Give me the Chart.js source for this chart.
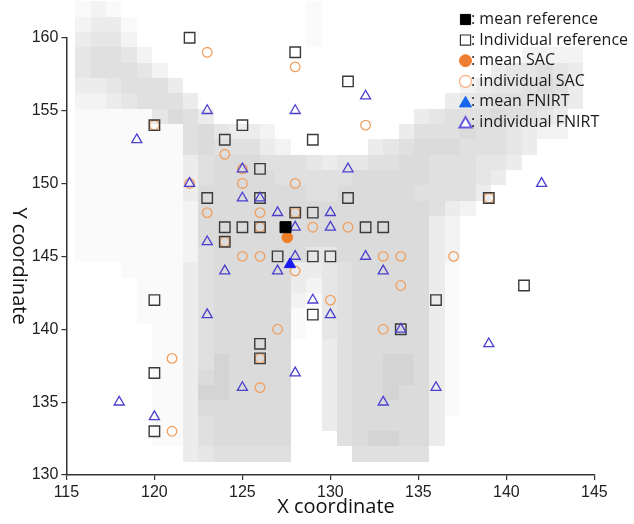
<!DOCTYPE html>
<html>
<head>
<meta charset="utf-8">
<script src="https://cdn.jsdelivr.net/npm/chart.js@4.4.1/dist/chart.umd.min.js"></script>
<style>
  body { margin: 0; background: #fff; }
  #chartCoord { display: block; }
</style>
</head>
<body>
<canvas id="chartCoord" width="634" height="524"></canvas>
<script>
// data ---------------------------------------------------------------

// individual reference (open squares)
const refX = [122,128,131,120,125,124,129,126,123,126,131,139,128,129,124,125,126,132,133,124,127,129,130,120,136,141,129,134,126,126,120,120];
const refY = [160,159,157,154,154,153,153,151,149,149,149,149,148,148,147,147,147,147,147,146,145,145,145,142,142,143,141,140,139,138,137,133];

// individual SAC (open circles)
const sacX = [123,128,132,120,124,125,122,125,128,123,126,128,126,129,131,124,125,126,133,134,137,128,134,130,127,133,139,126,121,126,121];
const sacY = [159,158,154,154,152,151,150,150,150,148,148,148,147,147,147,146,145,145,145,145,145,144,143,142,140,140,149,138,138,136,133];

// individual FNIRT (open triangles)
const fnirtX = [123,128,132,119,125,131,122,142,125,126,127,130,128,130,123,128,132,124,127,133,129,130,123,134,139,128,125,136,118,133,120];
const fnirtY = [155,155,156,153,151,151,150,150,149,149,148,148,147,147,146,145,145,144,144,144,142,141,141,140,139,137,136,136,135,135,134];

// means: reference, SAC, FNIRT
const meanX = [127.45, 127.55, 127.7];
const meanY = [147.0, 146.3, 144.45];

const xTicks = [115, 120, 125, 130, 135, 140, 145];
const yTicks = [130, 135, 140, 145, 150, 155, 160];

const legendLabels = [': mean reference', ': Individual reference', ': mean SAC', ': individual SAC', ': mean FNIRT', ': individual FNIRT'];
const xTitle = 'X coordinate';
const yTitle = 'Y coordinate';

// background image, one string per row (top row first), 0 = white .. 7 = darkest
const bgRows = [
  '1210000000' + '0000010000' + '0000000000' + '0000',
  '2331000000' + '0000010000' + '0000000000' + '0000',
  '3442000000' + '0000010000' + '0000000000' + '0000',
  '4554200000' + '0000000000' + '0000000002' + '2220',
  '4555420000' + '0000000000' + '0000000344' + '5430',
  '3345553000' + '0000000000' + '0000023445' + '6530',
  '2234555300' + '0000000000' + '0000344555' + '5430',
  '1111146530' + '0000000000' + '0034555655' + '4300',
  '1111111564' + '3320000000' + '0355565543' + '2200',
  '1111111565' + '5532000003' + '4566655543' + '0000',
  '1111111356' + '6655543445' + '5665554430' + '0000',
  '1111111356' + '6665555566' + '6665554300' + '0000',
  '1111111366' + '6666655666' + '6655553000' + '0000',
  '1111111266' + '6666666666' + '6665320000' + '0000',
  '1111111266' + '6666666666' + '6663200000' + '0000',
  '1111111266' + '6666666666' + '6663200000' + '0000',
  '1111111256' + '6666644666' + '6663200000' + '0000',
  '0001111356' + '6666334566' + '6663100000' + '0000',
  '0000111356' + '6666324566' + '6663100000' + '0000',
  '0000111356' + '6666214566' + '6663100000' + '0000',
  '0000111356' + '6666104566' + '6663100000' + '0000',
  '0000011356' + '6666104566' + '6663100000' + '0000',
  '0000011356' + '6666003566' + '6663100000' + '0000',
  '0000011357' + '6666003566' + '7763100000' + '0000',
  '0000011367' + '6666003566' + '7763100000' + '0000',
  '0000011377' + '6666003566' + '7663100000' + '0000',
  '0000011366' + '6666003566' + '6663100000' + '0000',
  '0000011356' + '6666003566' + '6663000000' + '0000',
  '0000011356' + '6666000567' + '7663000000' + '0000',
  '0000000345' + '5555000055' + '5550000000' + '0000'
];
const bgShades = [255, 250, 243, 236, 230, 224, 219, 212];

// chart --------------------------------------------------------------

function toPoints(xs, ys) {
    return xs.map(function (x, i) { return { x: x, y: ys[i] }; });
}

const bgLeft = 115.5, bgCellW = 0.875;
const bgTop = 162.5, bgCellH = 1.053;

const bgPlugin = {
    id: 'bgImage',
    beforeDatasetsDraw(chart) {
        const ctx = chart.ctx;
        const xs = chart.scales.x, ys = chart.scales.y;
        ctx.save();
        for (let r = 0; r < bgRows.length; r++) {
            const row = bgRows[r];
            const yTop = bgTop - r * bgCellH;
            for (let c = 0; c < row.length; c++) {
                const v = +row[c];
                if (!v) continue;
                const x0 = bgLeft + c * bgCellW;
                const px0 = Math.round(xs.getPixelForValue(x0));
                const px1 = Math.round(xs.getPixelForValue(x0 + bgCellW));
                const py0 = Math.round(ys.getPixelForValue(yTop));
                const py1 = Math.round(ys.getPixelForValue(yTop - bgCellH));
                const g = bgShades[v];
                ctx.fillStyle = 'rgb(' + g + ',' + g + ',' + g + ')';
                ctx.fillRect(px0, py0, px1 - px0, py1 - py0);
            }
        }
        ctx.restore();
    }
};

const legendMarks = [
    { pointStyle: 'rect', radius: 7.2, fill: '#000000', stroke: '#000000', width: 1 },
    { pointStyle: 'rect', radius: 7.2, fill: '#ffffff', stroke: '#333333', width: 1.2 },
    { pointStyle: 'circle', radius: 6, fill: '#ED7D31', stroke: '#ED7D31', width: 1 },
    { pointStyle: 'circle', radius: 6, fill: '#ffffff', stroke: '#F4B183', width: 1.2 },
    { pointStyle: 'triangle', radius: 7, fill: '#1565F0', stroke: '#1565F0', width: 1 },
    { pointStyle: 'triangle', radius: 7, fill: '#ffffff', stroke: '#6A5AE0', width: 2 }
];

const textPlugin = {
    id: 'notes',
    afterDraw(chart) {
        const ctx = chart.ctx;
        ctx.save();
        // legend box
        ctx.font = '16px "Open Sans"';
        ctx.textAlign = 'left';
        ctx.textBaseline = 'middle';
        for (let i = 0; i < legendLabels.length; i++) {
            const y = 19.5 + i * 20.6;
            const m = legendMarks[i];
            ctx.fillStyle = m.fill;
            ctx.strokeStyle = m.stroke;
            ctx.lineWidth = m.width;
            Chart.helpers.drawPoint(ctx, { pointStyle: m.pointStyle, radius: m.radius, borderWidth: m.width, rotation: 0 }, 465.5, y + (m.pointStyle === 'triangle' ? 1.5 : 0));
            ctx.fillStyle = '#1a1a1a';
            ctx.fillText(legendLabels[i], 471, y);
        }
        // axis titles
        ctx.fillStyle = '#111111';
        ctx.font = '20px "Open Sans"';
        ctx.textAlign = 'center';
        ctx.textBaseline = 'alphabetic';
        ctx.fillText(xTitle, 336, 513);
        ctx.translate(19, 266);
        ctx.rotate(Math.PI / 2);
        ctx.textBaseline = 'middle';
        ctx.fillText(yTitle, 0, 0);
        ctx.restore();
    }
};

function axisOpts(min, max, ticks) {
    return {
        type: 'linear',
        min: min,
        max: max,
        afterBuildTicks: function (scale) {
            scale.ticks = ticks.map(function (v) { return { value: v }; });
        },
        ticks: {
            padding: 3,
            color: '#222222',
            font: { family: '"Liberation Sans", Arial, sans-serif', size: 16 }
        },
        grid: { drawOnChartArea: false, drawTicks: true, tickLength: 5, color: '#333333', lineWidth: 1.2 },
        border: { display: true, color: '#333333', width: 1.5 }
    };
}

function chartCoord() {
    const xOpts = axisOpts(115, 145, xTicks);
    xOpts.afterFit = function (scale) { scale.height = 49; };
    const yOpts = axisOpts(130, 160, yTicks);
    yOpts.afterFit = function (scale) { scale.width = 66.4; };

    const dataCoord = {
        datasets: [
            {
                label: 'mean reference', data: toPoints(meanX.slice(0, 1), meanY.slice(0, 1)),
                pointStyle: 'rect', pointRadius: 7.8, backgroundColor: '#000000', borderColor: '#000000',
                borderWidth: 1, order: 0, clip: false
            },
            {
                label: 'mean SAC', data: toPoints(meanX.slice(1, 2), meanY.slice(1, 2)),
                pointStyle: 'circle', pointRadius: 5.3, backgroundColor: '#F07E26', borderColor: '#F07E26',
                borderWidth: 1, order: 1, clip: false
            },
            {
                label: 'mean FNIRT', data: toPoints(meanX.slice(2, 3), meanY.slice(2, 3)),
                pointStyle: 'triangle', pointRadius: 6.5, backgroundColor: '#1a1aee', borderColor: '#1a1aee',
                borderWidth: 1, order: 2, clip: false
            },
            {
                label: 'individual FNIRT', data: toPoints(fnirtX, fnirtY),
                pointStyle: 'triangle', pointRadius: 5.8, backgroundColor: 'rgba(0,0,0,0)', borderColor: '#4b3fcf',
                borderWidth: 1.3, order: 3, clip: false
            },
            {
                label: 'Individual reference', data: toPoints(refX, refY),
                pointStyle: 'rect', pointRadius: 7.4, backgroundColor: 'rgba(0,0,0,0)', borderColor: '#3a3a3a',
                borderWidth: 1.4, order: 4, clip: false
            },
            {
                label: 'individual SAC', data: toPoints(sacX, sacY),
                pointStyle: 'circle', pointRadius: 4.8, backgroundColor: 'rgba(0,0,0,0)', borderColor: '#F0A060',
                borderWidth: 1.3, order: 5, clip: false
            }
        ]
    };

    const configCoord = {
        type: 'scatter',
        data: dataCoord,
        options: {
            responsive: false,
            animation: false,
            layout: { padding: { left: 0, right: 39.6, top: 37.7, bottom: 0 } },
            scales: { x: xOpts, y: yOpts },
            plugins: { legend: { display: false }, tooltip: { enabled: false } }
        },
        plugins: [bgPlugin, textPlugin]
    };

    const myChartCoord = new Chart(document.getElementById('chartCoord'), configCoord);
}

chartCoord();
</script>
</body>
</html>
